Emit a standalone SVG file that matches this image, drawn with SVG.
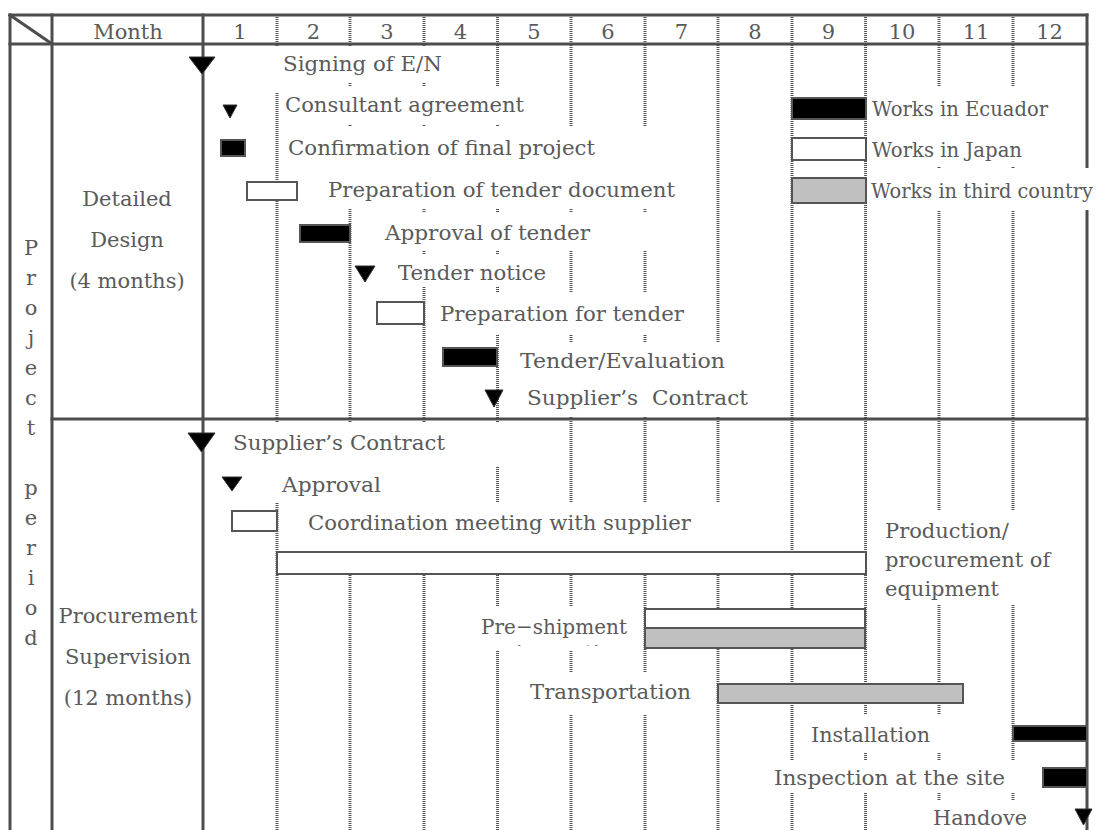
<svg xmlns="http://www.w3.org/2000/svg" width="1100" height="830" viewBox="0 0 1100 830">
<defs>
<style>
.t{font-family:"DejaVu Serif","Liberation Serif",serif;font-size:21px;fill:#5a5a5a}
.m{text-anchor:middle}
.g{stroke:#555;stroke-width:3;stroke-dasharray:1 1;fill:none}
.f{stroke:#4d4d4d;stroke-width:3;fill:none;stroke-linecap:square}
.bx{fill:#fff}
.blk{fill:#000;stroke:#555;stroke-width:2}
.wht{fill:#fff;stroke:#555;stroke-width:2}
.gry{fill:#c0c0c0;stroke:#555;stroke-width:2}
.tri{fill:#000;stroke:#333;stroke-width:1}
</style>
<clipPath id="clipPre"><rect x="470" y="606" width="168" height="40"/></clipPath>
</defs>
<rect width="1100" height="830" fill="#fff"/>
<g id="grid">
<line class="g" x1="277" y1="15" x2="277" y2="830"/>
<line class="g" x1="350" y1="15" x2="350" y2="830"/>
<line class="g" x1="424" y1="15" x2="424" y2="830"/>
<line class="g" x1="497.5" y1="15" x2="497.5" y2="830"/>
<line class="g" x1="571" y1="15" x2="571" y2="830"/>
<line class="g" x1="645" y1="15" x2="645" y2="830"/>
<line class="g" x1="718" y1="15" x2="718" y2="830"/>
<line class="g" x1="792" y1="15" x2="792" y2="830"/>
<line class="g" x1="865.5" y1="15" x2="865.5" y2="830"/>
<line class="g" x1="939" y1="15" x2="939" y2="830"/>
<line class="g" x1="1013" y1="15" x2="1013" y2="830"/>
</g>
<g id="frame">
<line class="f" x1="10" y1="15" x2="1087" y2="15"/>
<line class="f" x1="10" y1="15" x2="10" y2="832"/>
<line class="f" x1="52" y1="15" x2="52" y2="832"/>
<line class="f" x1="203" y1="15" x2="203" y2="832"/>
<line class="f" x1="1087" y1="15" x2="1087" y2="832"/>
<line class="f" x1="10" y1="44" x2="1087" y2="44"/>
<line class="f" x1="52" y1="419" x2="1087" y2="419"/>
<line class="f" x1="10" y1="15" x2="52" y2="44"/>
</g>
<g id="header">
<text class="t m" x="128" y="39">Month</text>
<text class="t m" x="240" y="39">1</text>
<text class="t m" x="313.5" y="39">2</text>
<text class="t m" x="387" y="39">3</text>
<text class="t m" x="460.5" y="39">4</text>
<text class="t m" x="534" y="39">5</text>
<text class="t m" x="608" y="39">6</text>
<text class="t m" x="681.5" y="39">7</text>
<text class="t m" x="755" y="39">8</text>
<text class="t m" x="828.5" y="39">9</text>
<text class="t m" x="902" y="39">10</text>
<text class="t m" x="976" y="39">11</text>
<text class="t m" x="1049.5" y="39">12</text>
</g>
<g id="project-period">
<text class="t m" x="31" y="255"><tspan x="31" y="255">P</tspan><tspan x="31" y="285">r</tspan><tspan x="31" y="315">o</tspan><tspan x="31" y="345">j</tspan><tspan x="31" y="375">e</tspan><tspan x="31" y="405">c</tspan><tspan x="31" y="435">t</tspan><tspan x="31" y="495">p</tspan><tspan x="31" y="525">e</tspan><tspan x="31" y="555">r</tspan><tspan x="31" y="585">i</tspan><tspan x="31" y="615">o</tspan><tspan x="31" y="645">d</tspan></text>
</g>
<g id="detailed-design">
<text class="t m" x="127" y="206">Detailed</text>
<text class="t m" x="127" y="247">Design</text>
<text class="t m" x="127" y="288">(4 months)</text>
</g>
<g id="procurement-supervision">
<text class="t m" x="128" y="623">Procurement</text>
<text class="t m" x="128" y="664">Supervision</text>
<text class="t m" x="128" y="705">(12 months)</text>
</g>
<g id="signing">
<rect class="bx" x="266" y="46" width="226" height="37"/>
<rect class="bx" x="266" y="46" width="40" height="47"/>
<polygon class="tri" points="189,57 215,57 202,74"/>
<text class="t" x="283" y="71" textLength="159" lengthAdjust="spacingAndGlyphs">Signing of E/N</text>
</g>
<g id="consultant">
<rect class="bx" x="280" y="86" width="282" height="38"/>
<polygon class="tri" points="223,105 237,105 230,118"/>
<text class="t" x="285" y="112" textLength="239" lengthAdjust="spacingAndGlyphs">Consultant agreement</text>
</g>
<g id="confirmation">
<rect class="bx" x="280" y="127" width="370" height="43"/>
<rect class="blk" x="221" y="140" width="24" height="16"/>
<text class="t" x="288" y="155" textLength="307" lengthAdjust="spacingAndGlyphs">Confirmation of final project</text>
</g>
<g id="prep-tender-doc">
<rect class="bx" x="318" y="170" width="372" height="39"/>
<rect class="wht" x="247" y="182" width="50" height="18"/>
<text class="t" x="328" y="197" textLength="347" lengthAdjust="spacingAndGlyphs">Preparation of tender document</text>
</g>
<g id="approval-tender">
<rect class="bx" x="376" y="213" width="274" height="37"/>
<rect class="blk" x="300" y="225" width="50" height="17"/>
<text class="t" x="385" y="240" textLength="205" lengthAdjust="spacingAndGlyphs">Approval of tender</text>
</g>
<g id="tender-notice">
<rect class="bx" x="390" y="254" width="168" height="33"/>
<polygon class="tri" points="355,266 375,266 365,282"/>
<text class="t" x="398" y="280" textLength="148" lengthAdjust="spacingAndGlyphs">Tender notice</text>
</g>
<g id="prep-tender">
<rect class="bx" x="430" y="293" width="275" height="41"/>
<rect class="wht" x="377" y="302" width="47" height="22"/>
<text class="t" x="440" y="321" textLength="244" lengthAdjust="spacingAndGlyphs">Preparation for tender</text>
</g>
<g id="tender-eval">
<rect class="bx" x="508" y="342" width="228" height="38"/>
<rect class="blk" x="443" y="348" width="54" height="18"/>
<text class="t" x="520" y="368" textLength="205" lengthAdjust="spacingAndGlyphs">Tender/Evaluation</text>
</g>
<g id="supplier-contract-1">
<rect class="bx" x="515" y="381" width="245" height="36"/>
<polygon class="tri" points="485,390 503,390 494,407"/>
<text class="t" x="527" y="405" xml:space="preserve" textLength="221" lengthAdjust="spacingAndGlyphs">Supplier’s  Contract</text>
</g>
<g id="legend">
<rect class="bx" x="868" y="86" width="212" height="40"/>
<rect class="bx" x="868" y="127" width="212" height="40"/>
<rect class="bx" x="868" y="168" width="230" height="42"/>
<rect class="blk" x="792" y="98" width="74" height="21"/>
<rect class="wht" x="792" y="138" width="74" height="22"/>
<rect class="gry" x="792" y="178" width="74" height="25"/>
<text class="t" x="872" y="116" textLength="176" lengthAdjust="spacingAndGlyphs">Works in Ecuador</text>
<text class="t" x="872" y="157" textLength="150" lengthAdjust="spacingAndGlyphs">Works in Japan</text>
<text class="t" x="871" y="198" style="font-size:19.5px" textLength="222" lengthAdjust="spacingAndGlyphs">Works in third country</text>
</g>
<g id="supplier-contract-2">
<rect class="bx" x="225" y="423" width="295" height="44"/>
<polygon class="tri" points="188,433 215,433 201.5,452"/>
<text class="t" x="233" y="450" textLength="212" lengthAdjust="spacingAndGlyphs">Supplier’s Contract</text>
</g>
<g id="approval">
<rect class="bx" x="262" y="467" width="195" height="35"/>
<polygon class="tri" points="222,477 242,477 232,491"/>
<text class="t" x="282" y="492" textLength="99" lengthAdjust="spacingAndGlyphs">Approval</text>
</g>
<g id="coordination">
<rect class="bx" x="300" y="503" width="480" height="48"/>
<rect class="wht" x="232" y="511" width="45" height="20"/>
<text class="t" x="308" y="530" textLength="383" lengthAdjust="spacingAndGlyphs">Coordination meeting with supplier</text>
</g>
<g id="production">
<rect class="bx" x="875" y="511" width="195" height="93"/>
<rect class="wht" x="277" y="552" width="589" height="22"/>
<text class="t" x="885" y="538">Production/</text>
<text class="t" x="885" y="567">procurement of</text>
<text class="t" x="885" y="596">equipment</text>
</g>
<g id="pre-shipment">
<rect class="bx" x="470" y="606" width="168" height="44"/>
<rect class="wht" x="645" y="609" width="220" height="19"/>
<rect class="gry" x="645" y="628" width="220" height="20"/>
<text class="t" x="481" y="634" textLength="146" lengthAdjust="spacingAndGlyphs">Pre−shipment</text>
<text class="t" x="516" y="660" clip-path="url(#clipPre)">inspection</text>
</g>
<g id="transportation">
<rect class="bx" x="520" y="673" width="182" height="42"/>
<rect class="gry" x="718" y="684" width="245" height="19"/>
<text class="t" x="530" y="699" textLength="161" lengthAdjust="spacingAndGlyphs">Transportation</text>
</g>
<g id="installation">
<rect class="bx" x="800" y="715" width="205" height="37"/>
<rect class="blk" x="1013" y="726" width="74" height="15"/>
<text class="t" x="811" y="742" textLength="119" lengthAdjust="spacingAndGlyphs">Installation</text>
</g>
<g id="inspection">
<rect class="bx" x="765" y="760" width="275" height="33"/>
<rect class="blk" x="1043" y="768" width="44" height="19"/>
<text class="t" x="774" y="785" textLength="231" lengthAdjust="spacingAndGlyphs">Inspection at the site</text>
</g>
<g id="handover">
<rect class="bx" x="925" y="800" width="150" height="30"/>
<polygon class="tri" points="1075,809 1092,809 1083.5,825"/>
<text class="t" x="933" y="825" textLength="94" lengthAdjust="spacingAndGlyphs">Handove</text>
</g>
</svg>
